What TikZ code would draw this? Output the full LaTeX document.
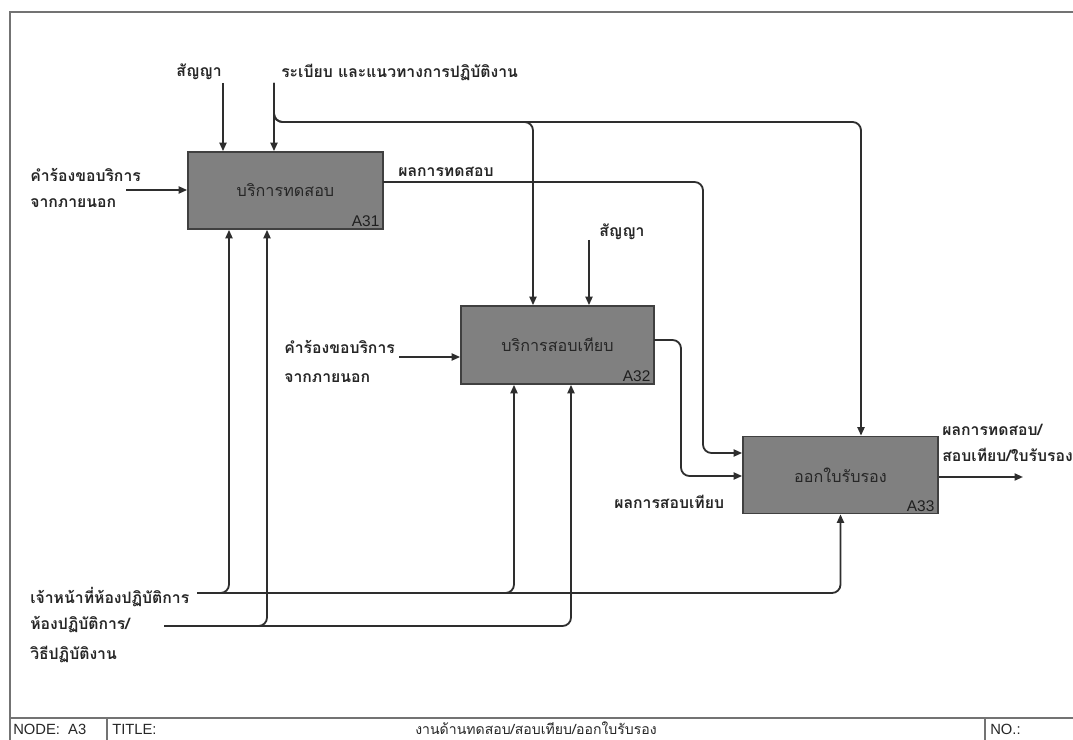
\documentclass[tikz,border=0pt]{standalone}
\usepackage{fontspec}
\setmainfont{Liberation Sans}
\newfontfamily\thaifont[Script=Thai]{Loma}
\usetikzlibrary{arrows.meta}
\begin{document}
\begin{tikzpicture}[x=0.025cm,y=-0.025cm,
  wire/.style={draw=black!82, line width=1.3pt, rounded corners=6pt},
  feed/.style={wire, -{Triangle[length=6pt,width=5pt]}},
  activity/.style={draw=black!75, line width=1.2pt, fill=black!50,
    inner sep=0pt, minimum width=4.875cm, minimum height=1.925cm,
    font=\thaifont\fontsize{11.5}{14}\selectfont, text=black!85},
  boxid/.style={font=\fontsize{11}{13}\selectfont, text=black!88,
    inner sep=0pt, anchor=south east},
  lbl/.style={font=\thaifont\bfseries\fontsize{11.2}{14}\selectfont,
    text=black!85, inner sep=0pt},
  sheet/.style={draw=black!55, line width=0.8pt},
  foot/.style={font=\fontsize{10.5}{12}\selectfont, text=black!85, inner sep=0pt, anchor=west},
]
\useasboundingbox (0,0) rectangle (1073,740);

% drawing sheet frame and footer
\draw[sheet] (10,760) -- (10,12) -- (1090,12);
\draw[sheet] (10,718) -- (1090,718);
\draw[sheet] (107,718) -- (107,760);
\draw[sheet] (985,718) -- (985,760);
\node[foot] (fnode) at (13,729) {NODE:\ \ A3};
\node[foot] (ftitle) at (112,729) {TITLE:};
\node[foot, anchor=center, font=\thaifont\fontsize{10}{12}\selectfont] (fname) at (536,728) {งานด้านทดสอบ/สอบเทียบ/ออกใบรับรอง};
\node[foot] (fno) at (990,729) {NO.:};

% activities
\node[activity] (a31) at (285.5,190.5) {บริการทดสอบ};
\node[activity, minimum width=4.825cm, minimum height=1.95cm] (a32) at (557.5,345) {บริการสอบเทียบ};
\node[activity] (a33) at (840.5,475) {ออกใบรับรอง};
\node[boxid] (a31id) at ([xshift=-3pt,yshift=2pt]a31.south east) {A31};
\node[boxid] (a32id) at ([xshift=-3pt,yshift=2pt]a32.south east) {A32};
\node[boxid] (a33id) at ([xshift=-3pt,yshift=2pt]a33.south east) {A33};

% arrow labels
\node[lbl, anchor=east] (lc1) at (222,72) {สัญญา};
\node[lbl, anchor=west] (lc2) at (281,72) {ระเบียบ และแนวทางการปฏิบัติงาน};
\node[lbl, anchor=west] (lc3) at (599,232) {สัญญา};
\node[lbl, anchor=west] (li1a) at (30,175) {คำร้องขอบริการ};
\node[lbl, anchor=west] (li1b) at (30,203) {จากภายนอก};
\node[lbl, anchor=west] (li2a) at (284,347) {คำร้องขอบริการ};
\node[lbl, anchor=west] (li2b) at (284,378) {จากภายนอก};
\node[lbl, anchor=west] (lo1) at (398,172) {ผลการทดสอบ};
\node[lbl, anchor=west] (lo2) at (614,502) {ผลการสอบเทียบ};
\node[lbl, anchor=west] (lo3a) at (942,430) {ผลการทดสอบ/};
\node[lbl, anchor=west] (lo3b) at (942,455) {สอบเทียบ/ใบรับรอง};
\node[lbl, anchor=west] (lm1) at (30,597) {เจ้าหน้าที่ห้องปฏิบัติการ};
\node[lbl, anchor=west] (lm2a) at (30,625) {ห้องปฏิบัติการ/};
\node[lbl, anchor=west] (lm2b) at (30,654) {วิธีปฏิบัติงาน};

% connector ends and bends
\coordinate (c1) at (223,83);
\coordinate (c2) at (274,83);
\coordinate (k1) at (533,122);
\coordinate (k2) at (861,122);
\coordinate (c3) at (589,240);
\coordinate (in1) at (126,190);
\coordinate (in2) at (399,357);
\coordinate (o1) at (383,182);
\coordinate (j1) at (703,453);
\coordinate (o2) at (654,340);
\coordinate (j2) at (681,476);
\coordinate (out) at (1023,477);
\coordinate (m1) at (197,593);
\coordinate (m2) at (164,626);
\coordinate (b1) at (229,0);
\coordinate (b2) at (267,0);
\coordinate (b3) at (514,0);
\coordinate (b4) at (571,0);

% controls
\draw[feed] (c1) -- (c1 |- a31.north);
\draw[feed] (c2) -- (c2 |- a31.north);
\draw[feed] (c2) |- (k1) -- (k1 |- a32.north);
\draw[feed] (c2) |- (k2) -- (k2 |- a33.north);
\draw[feed] (c3) -- (c3 |- a32.north);

% inputs and outputs
\draw[feed] (in1) -- (in1 -| a31.west);
\draw[feed] (in2) -- (in2 -| a32.west);
\draw[feed] (o1) -| (j1) -- (j1 -| a33.west);
\draw[feed] (o2) -| (j2) -- (j2 -| a33.west);
\draw[feed] (out -| a33.east) -- (out);

% mechanisms
\draw[feed] (m1) -| (b1 |- a31.south);
\draw[feed] (m1) -| (b3 |- a32.south);
\draw[feed] (m1) -| (a33.south);
\draw[feed] (m2) -| (b2 |- a31.south);
\draw[feed] (m2) -| (b4 |- a32.south);
\end{tikzpicture}
\end{document}
